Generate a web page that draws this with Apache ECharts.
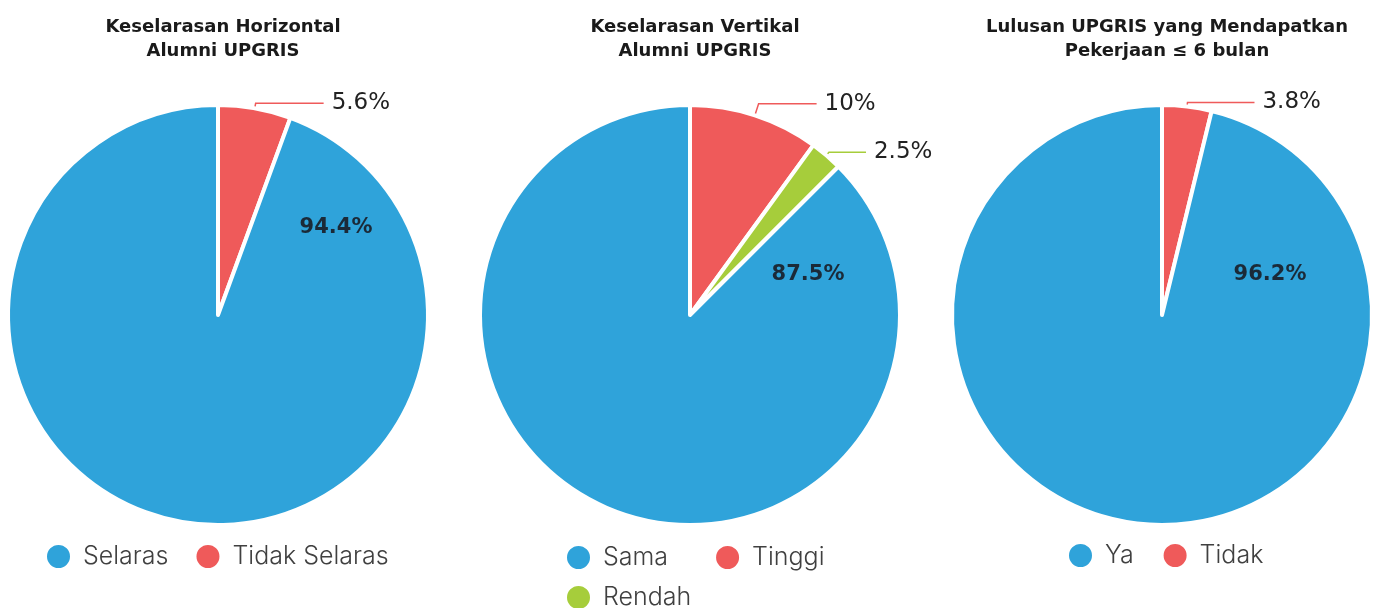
<!DOCTYPE html>
<html>
<head>
<meta charset="utf-8">
<script src="https://cdn.jsdelivr.net/npm/echarts@6/dist/echarts.min.js"></script>
<style>
  html, body { margin: 0; padding: 0; background: #fff; }
  #chart { width: 1378px; height: 608px; }
</style>
</head>
<body>
<div id="chart"></div>
<script>
// data
const titles = [
  "Keselarasan Horizontal\nAlumni UPGRIS",
  "Keselarasan Vertikal\nAlumni UPGRIS",
  "Lulusan UPGRIS yang Mendapatkan\nPekerjaan ≤ 6 bulan"
];
const names1 = ["Selaras", "Tidak Selaras"];
const values1 = [94.4, 5.6];
const names2 = ["Sama", "Tinggi", "Rendah"];
const values2 = [87.5, 10, 2.5];
const names3 = ["Ya", "Tidak"];
const values3 = [96.2, 3.8];

const colors = ["#2fa3da", "#ef5a5a", "#a6cd3b"];
const labelFont = "'DejaVu Sans', sans-serif";

// layout of each panel
const centers = [[218, 315], [690, 315], [1162, 315]];
const bigLabelOffset = [[118, -87], [118, -40], [108, -40]];
// leader line [length, length2] for the small slices of each pie
const leaders = [
  [[5, 68]],
  [[12, 58], [4, 37]],
  [[4, 67]]
];
const radius = 210;

const chart = echarts.init(document.getElementById("chart"));

// small slices are drawn first (clockwise from 12 o'clock), the big one last
function makeData(idx, names, values) {
  const items = names.map((n, i) => ({
    name: n,
    value: values[i],
    itemStyle: { color: colors[i] },
    label: i === 0
      ? { fontWeight: "bold", fontSize: 21, color: "#1b2a38" }
      : { fontSize: 23, color: "#222" },
    labelLine: i === 0
      ? { show: false }
      : { show: true, length: leaders[idx][i - 1][0], length2: leaders[idx][i - 1][1] }
  }));
  return items.slice(1).concat(items.slice(0, 1));
}

function makeSeries(idx, names, values) {
  const c = centers[idx];
  const off = bigLabelOffset[idx];
  const data = makeData(idx, names, values);
  const bigIndex = data.length - 1;
  return {
    type: "pie",
    center: c,
    radius: radius,
    startAngle: 90,
    clockwise: true,
    avoidLabelOverlap: false,
    itemStyle: { borderColor: "#fff", borderWidth: 4 },
    label: {
      show: true,
      position: "outside",
      fontFamily: labelFont,
      distanceToLabelLine: 8,
      formatter: (p) => p.value + "%"
    },
    labelLine: { lineStyle: { width: 1.5 } },
    labelLayout: function (p) {
      if (p.dataIndex === bigIndex) {
        return { x: c[0] + off[0], y: c[1] + off[1], align: "center", verticalAlign: "middle" };
      }
    },
    emphasis: { disabled: true },
    data: data
  };
}

const legendText = { fontFamily: "Inter, sans-serif", fontSize: 25, fontWeight: 300, color: "#404040", padding: [0, 0, 0, 7] };
const legendBase = { itemWidth: 25, itemHeight: 25, icon: "circle", padding: 0, textStyle: legendText };

const option = {
  backgroundColor: "#fff",
  animation: false,
  title: titles.map((t, i) => ({
    text: t,
    left: centers[i][0],
    top: 10,
    textAlign: "center",
    textStyle: { fontFamily: "'DejaVu Sans', sans-serif", fontSize: 18, fontWeight: "bold", color: "#1a1a1a", lineHeight: 24 }
  })),
  legend: [
    Object.assign({ data: names1, left: 45, top: 543, itemGap: 26 }, legendBase),
    Object.assign({ data: names2.slice(0, 2), left: 565, top: 544, itemGap: 46 }, legendBase),
    Object.assign({ data: names2.slice(2), left: 565, top: 584 }, legendBase),
    Object.assign({ data: names3, left: 1067, top: 542, itemGap: 28 }, legendBase)
  ],
  series: [
    makeSeries(0, names1, values1),
    makeSeries(1, names2, values2),
    makeSeries(2, names3, values3)
  ]
};

chart.setOption(option);
</script>
</body>
</html>
